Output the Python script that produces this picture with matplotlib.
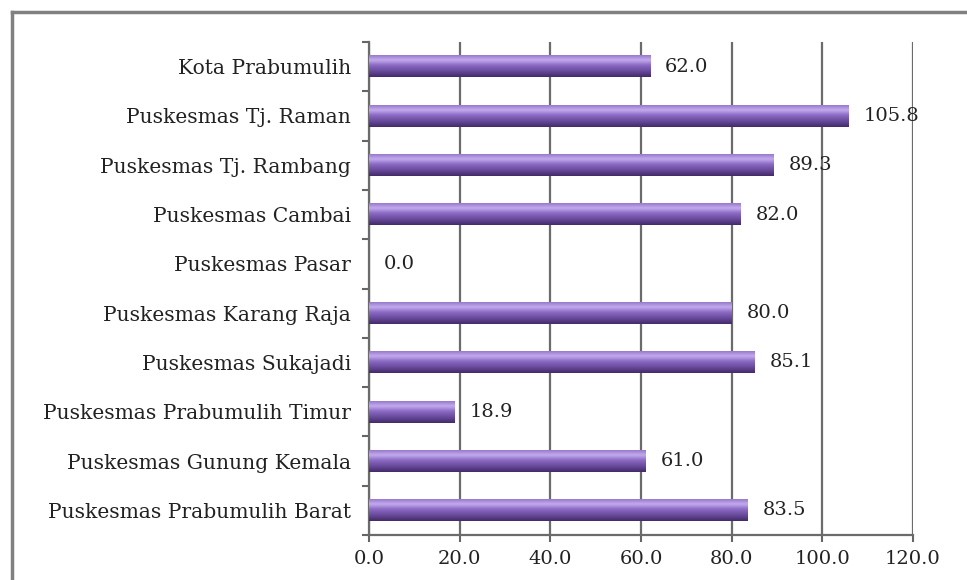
import numpy as np
import matplotlib
matplotlib.use("Agg")
import matplotlib.pyplot as plt
from matplotlib.colors import LinearSegmentedColormap
from matplotlib.lines import Line2D

categories = ["Puskesmas Prabumulih Barat", "Puskesmas Gunung Kemala",
              "Puskesmas Prabumulih Timur", "Puskesmas Sukajadi",
              "Puskesmas Karang Raja", "Puskesmas Pasar", "Puskesmas Cambai",
              "Puskesmas Tj. Rambang", "Puskesmas Tj. Raman", "Kota Prabumulih"]
values = [83.5, 61.0, 18.9, 85.1, 80.0, 0.0, 82.0, 89.3, 105.8, 62.0]
xticks = [0, 20, 40, 60, 80, 100, 120]

plt.rcParams['font.family'] = ['DejaVu Serif']
FS = 14

fig = plt.figure(figsize=(9.67, 5.8), dpi=100)
ax = fig.add_axes([369/967, 1-535/580, (913-369)/967, (535-42)/580])

y = np.arange(len(categories))
bars = ax.barh(y, values, height=0.44, color="#7d5bb0", zorder=3)

cmap = LinearSegmentedColormap.from_list("bar", [
    (0.0, "#452a68"), (0.2, "#5f4290"), (0.55, "#8d6bc6"),
    (0.78, "#c4acee"), (1.0, "#9778cc")])
grad = np.linspace(0, 1, 64).reshape(-1, 1)
for b in bars:
    w = b.get_width()
    if w <= 0:
        continue
    x0, y0, h = b.get_x(), b.get_y(), b.get_height()
    ax.imshow(grad, extent=[x0, x0 + w, y0, y0 + h], origin="lower",
              cmap=cmap, aspect="auto", zorder=4, interpolation="bicubic")
    b.set_alpha(0)

for yi, v in zip(y, values):
    ax.text(v + 3.3, yi, f"{v:.1f}", va="center", ha="left", fontsize=FS,
            color="#222222", zorder=5)

ax.set_xlim(0, 120)
ax.set_ylim(-0.5, len(categories) - 0.5)
ax.set_xticks(xticks)
ax.set_xticklabels([f"{t:.1f}" for t in xticks], fontsize=FS, color="#222222")
ax.set_yticks(y)
ax.set_yticklabels(categories, fontsize=14.6, color="#222222")
ax.set_yticks(np.arange(-0.5, len(categories), 1.0), minor=True)
ax.tick_params(axis="y", which="major", length=0, pad=13)
ax.tick_params(axis="y", which="minor", length=5, width=1.5, color="#666666", direction="out")
ax.tick_params(axis="x", which="major", length=5, width=1.5, color="#666666", pad=6)

ax.grid(axis="x", color="#6b6b6b", linewidth=1.6, zorder=1)
ax.set_axisbelow(True)
for s in ["top", "right"]:
    ax.spines[s].set_visible(False)
for s in ["left", "bottom"]:
    ax.spines[s].set_color("#6b6b6b")
    ax.spines[s].set_linewidth(1.6)

# outer frame
fig.add_artist(Line2D([12/967, 1.0], [1-12/580, 1-12/580], transform=fig.transFigure,
                      color="#808080", linewidth=2.5))
fig.add_artist(Line2D([12/967, 12/967], [0.0, 1-12/580], transform=fig.transFigure,
                      color="#808080", linewidth=2.5))

fig.savefig("out.png", dpi=100)
